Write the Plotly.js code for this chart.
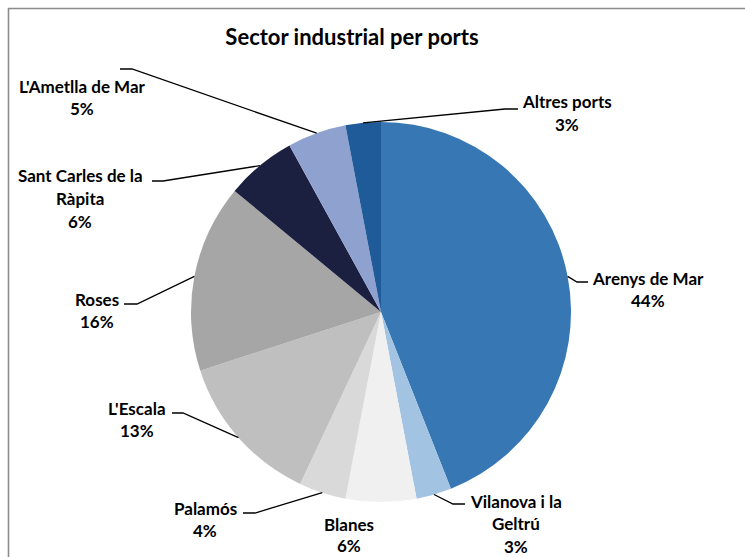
<!DOCTYPE html>
<html>
<head>
<meta charset="utf-8">
<script src="https://cdn.plot.ly/plotly-3.0.1.min.js"></script>
<style>html,body{margin:0;padding:0;background:#fff;}#chart{width:745px;height:557px;}</style>
</head>
<body>
<div id="chart"></div>
<script>
// ---- data ----
const ports = ["Arenys de Mar", "Vilanova i la Geltrú", "Blanes", "Palamós", "L'Escala", "Roses", "Sant Carles de la Ràpita", "L'Ametlla de Mar", "Altres ports"];
const shares = [44, 3, 6, 4, 13, 16, 6, 5, 3];
const labelLines = [["Arenys de Mar"], ["Vilanova i la", "Geltrú"], ["Blanes"], ["Palamós"], ["L'Escala"], ["Roses"], ["Sant Carles de la", "Ràpita"], ["L'Ametlla de Mar"], ["Altres ports"]];
const sliceColors = ["#3777b3", "#a3c3e2", "#f0f0f0", "#d9d9d9", "#bfbfbf", "#a6a6a6", "#1b1f40", "#8fa2cf", "#1f5b99"];
const titleText = "Sector industrial per ports";

// ---- layout (pixels) ----
const W = 745, H = 557;
const cx = 381, cy = 312, R = 190;
// label placement: center x, first line y, line gap, leader elbow (ex,ey), leader end x (null = no leader)
const labelPos = [
  {x: 648, y: 278, g: 22.5, ex: 577, ey: 282, endx: 588},
  {x: 516, y: 501, g: 22.5, ex: 453, ey: 504, endx: 465},
  {x: 349, y: 524, g: 21, ex: null},
  {x: 205, y: 508, g: 22.5, ex: 255, ey: 513, endx: 243},
  {x: 137, y: 408, g: 22.5, ex: 183, ey: 413, endx: 172},
  {x: 97, y: 299, g: 22.5, ex: 137, ey: 304, endx: 124},
  {x: 80, y: 176, g: 22.5, ex: 163, ey: 181, endx: 152},
  {x: 82, y: 86, g: 22.5, ex: 132, ey: 69, endx: 120},
  {x: 567, y: 102, g: 22.5, ex: 505, ey: 109, endx: 518}
];

const px = x => x / W;
const py = y => 1 - y / H;

const total = shares.reduce((a, b) => a + b, 0);
let cum = 0;
const annotations = [];
const shapes = [];
shares.forEach((v, i) => {
  const mid = (cum + v / 2) / total;
  cum += v;
  const th = 2 * Math.PI * mid;
  const ax = cx + R * Math.sin(th), ay = cy - R * Math.cos(th);
  const L = labelPos[i];
  const lines = labelLines[i].concat([Math.round(v / total * 100) + "%"]);
  lines.forEach((t, k) => {
    annotations.push({
      xref: 'paper', yref: 'paper', x: px(L.x), y: py(L.y + k * L.g),
      xanchor: 'center', yanchor: 'middle', showarrow: false,
      text: '<b>' + t + '</b>',
      font: {family: 'Lato, "Open Sans", sans-serif', size: 17, color: '#000'}
    });
  });
  if (L.ex !== null) {
    shapes.push({
      type: 'path', xref: 'paper', yref: 'paper',
      path: 'M ' + px(ax) + ' ' + py(ay) + ' L ' + px(L.ex) + ' ' + py(L.ey) + ' L ' + px(L.endx) + ' ' + py(L.ey),
      line: {color: '#000', width: 1.3}
    });
  }
});
// chart area border (top and left visible)
shapes.push({type: 'line', xref: 'paper', yref: 'paper', x0: px(8), y0: py(8.5), x1: px(W), y1: py(8.5), line: {color: '#8c8c8c', width: 1.6}});
shapes.push({type: 'line', xref: 'paper', yref: 'paper', x0: px(8.5), y0: py(8), x1: px(8.5), y1: py(H), line: {color: '#8c8c8c', width: 1.6}});

const trace = {
  type: 'pie', labels: ports, values: shares, sort: false, direction: 'clockwise', rotation: 0,
  marker: {colors: sliceColors, line: {width: 0}},
  textinfo: 'none', hoverinfo: 'label+percent', showlegend: false,
  domain: {x: [px(cx - R), px(cx + R)], y: [py(cy + R), py(cy - R)]}
};

const layout = {
  width: W, height: H, margin: {l: 0, r: 0, t: 0, b: 0},
  paper_bgcolor: '#fff', plot_bgcolor: '#fff', showlegend: false,
  title: {text: '<b>' + titleText + '</b>', x: px(352), xref: 'paper', xanchor: 'center', y: py(37), yref: 'paper', yanchor: 'middle',
          font: {family: 'Lato, "Open Sans", sans-serif', size: 22, color: '#000'}},
  annotations: annotations, shapes: shapes
};
Plotly.newPlot('chart', [trace], layout, {displayModeBar: false, staticPlot: true});
</script>
</body>
</html>
